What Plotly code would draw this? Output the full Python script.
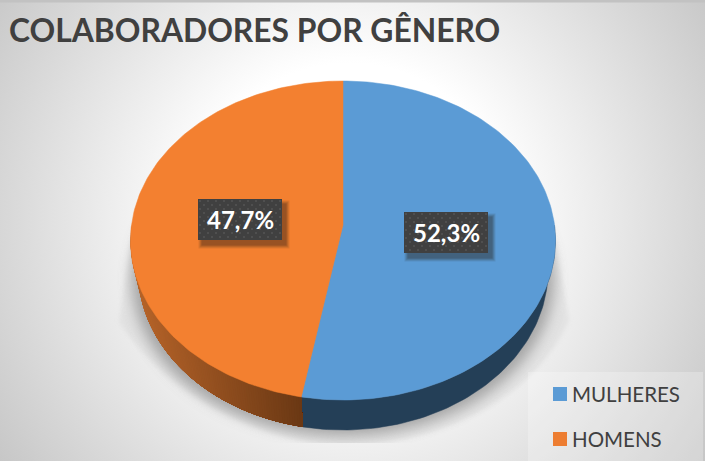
import base64
import numpy as np
import plotly.graph_objects as go

# ---- data ----
categories = ["MULHERES", "HOMENS"]
values = [52.3, 47.7]
title_text = "COLABORADORES POR GÊNERO"

# ---- style ----
W, H = 705, 461
FONT = "Lato"
TEXT = "#404040"
TOP_COLORS = ["#5B9BD5", "#F38030"]
KEY_COLORS = ["#5B9BD5", "#ED7D31"]
BOX_COLOR = "#404040"
CX, CY = 343, 225          # pie centre on screen
RX, RY, K = 211.5, 158, 0.0972  # perspective ellipse
DEPTH = 30
FAR_SCALE = 0.965          # lower rim is smaller, seen in perspective
SPLIT_SHIFT = 2.0          # perspective correction in degrees


def project(deg):
    t = np.radians(deg)
    X, Y = np.sin(t), np.cos(t)
    w = 1 + K * Y
    return CX + RX * X / w, CY - RY * Y / w


def lower_rim(xs, ys):
    return CX + (xs - CX) * FAR_SCALE, ys + DEPTH


svg = f'''<svg xmlns="http://www.w3.org/2000/svg" width="{W}" height="{H}" viewBox="0 0 {W} {H}">
<defs>
<radialGradient id="g" gradientUnits="userSpaceOnUse" cx="350" cy="218" r="430">
<stop offset="0.36" stop-color="#ffffff"/><stop offset="1" stop-color="#c6c6c6"/>
</radialGradient>
<filter id="b" x="-20%" y="-20%" width="140%" height="140%"><feGaussianBlur stdDeviation="7"/></filter>
<filter id="b2" x="-20%" y="-20%" width="140%" height="140%"><feGaussianBlur stdDeviation="2"/></filter>
<clipPath id="c"><rect x="0" y="0" width="{W}" height="443"/></clipPath>
</defs>
<rect width="{W}" height="{H}" fill="url(#g)"/>
<rect width="{W}" height="2.5" fill="#c2c2c2"/>
<g clip-path="url(#c)">
<path d="M131 240 L119 322 C170 400 270 445 345 445 C450 445 540 390 569 320 L555 240 Z" fill="#d9d9d9" filter="url(#b2)" opacity="0.55"/>
<ellipse cx="343" cy="279" rx="211" ry="157" fill="#8f8f8f" filter="url(#b)" opacity="0.75"/>
</g>
</svg>'''
bg = "data:image/svg+xml;base64," + base64.b64encode(svg.encode()).decode()

fig = go.Figure()

split = 360 * values[0] / sum(values) + SPLIT_SHIFT
spans = [(0.0, split), (split, 360.0)]

# side walls: front half of the rim only
bx0, by0 = project(np.linspace(90, split, 80))
lx0, ly0 = lower_rim(bx0, by0)
fig.add_trace(go.Scatter(
    x=np.r_[bx0, lx0[::-1]], y=np.r_[by0, ly0[::-1]], mode="lines", fill="toself",
    fillcolor="rgb(36,63,87)", line=dict(color="rgb(36,63,87)", width=0.5),
    hoverinfo="skip", showlegend=False))

edges = np.linspace(270, split, 121)   # each step repaints up to the split, so no seams
for j in range(120):
    seg = np.linspace(edges[j], split, 12)
    xs, ys = project(seg)
    lx, ly = lower_rim(xs, ys)
    f = np.clip((xs[0] - 136) / (302 - 136), 0, 1)
    c = f"rgb({int(182 - 76 * f)},{int(100 - 44 * f)},{int(42 - 22 * f)})"
    fig.add_trace(go.Scatter(
        x=np.r_[xs, lx[::-1]], y=np.r_[ys, ly[::-1]], mode="lines", fill="toself",
        fillcolor=c, line=dict(width=0), hoverinfo="skip", showlegend=False))

# top faces
for i, (a0, a1) in enumerate(spans):
    ang = np.linspace(a0, a1, 160)
    px, py = project(ang)
    fig.add_trace(go.Scatter(
        x=np.r_[CX, px, CX], y=np.r_[CY, py, CY],
        mode="lines", fill="toself", fillcolor=TOP_COLORS[i], line=dict(color=TOP_COLORS[i], width=0.5),
        name=categories[i], hoverinfo="skip", showlegend=False))

# data labels
box_centres = [(446, 232.5), (240, 219.5)]
bw, bh = 84, 41
for (bx, by), v in zip(box_centres, values):
    l, r, t, b = bx - bw / 2, bx + bw / 2, by - bh / 2, by + bh / 2
    for grow, op in [(3.5, 0.10), (2.5, 0.12), (1.5, 0.14), (0.5, 0.18)]:
        fig.add_trace(go.Scatter(
            x=[l + 4 - grow, r + 4 + grow, r + 4 + grow, l + 4 - grow, l + 4 - grow],
            y=[t + 5 - grow, t + 5 - grow, b + 5 + grow, b + 5 + grow, t + 5 - grow],
            mode="lines", fill="toself", fillcolor=f"rgba(40,30,20,{op})", line=dict(width=0),
            hoverinfo="skip", showlegend=False))
    fig.add_trace(go.Scatter(
        x=[l, r, r, l, l], y=[t, t, b, b, t], mode="lines", fill="toself",
        fillcolor=BOX_COLOR, line=dict(width=0), hoverinfo="skip", showlegend=False))
    dx, dy = [], []
    for row, yy in enumerate(np.arange(t + 2, b, 4)):
        off = 2 if row % 2 == 0 else 6
        for xx in np.arange(l + off, r, 8):
            dx.append(xx); dy.append(yy)
    fig.add_trace(go.Scatter(
        x=dx, y=dy, mode="markers", marker=dict(size=2, color="#555555", line=dict(width=0)),
        hoverinfo="skip", showlegend=False))
    fig.add_annotation(x=bx, y=by, xref="x", yref="y", showarrow=False,
                       text=f"<b>{str(v).replace('.', ',')}%</b>",
                       font=dict(family=FONT, size=24, color="white"))

# key
key_y = [394, 439]
fig.add_trace(go.Scatter(
    x=[560, 560], y=key_y, mode="markers", hoverinfo="skip", showlegend=False,
    marker=dict(symbol="square", size=14, color=KEY_COLORS, line=dict(width=0))))
for cat, ky in zip(categories, key_y):
    fig.add_annotation(x=572, y=ky, xref="x", yref="y", xanchor="left", showarrow=False, text=cat,
                       xshift=-2, font=dict(family=FONT, size=20.5, color=TEXT))

fig.update_layout(
    width=W, height=H, margin=dict(l=0, r=0, t=0, b=0),
    paper_bgcolor="white", plot_bgcolor="rgba(0,0,0,0)", showlegend=False,
    xaxis=dict(range=[0, W], visible=False, fixedrange=True),
    yaxis=dict(range=[H, 0], visible=False, fixedrange=True),
    font=dict(family=FONT, color=TEXT),
    title=dict(text=f"<b>{title_text}</b>", x=9 / W, xanchor="left", y=1 - 31 / H, yanchor="middle",
               xref="paper", yref="paper", font=dict(family=FONT, size=31.8, color=TEXT)),
    images=[dict(source=bg, xref="paper", yref="paper", x=0, y=1, sizex=1, sizey=1,
                 xanchor="left", yanchor="top", sizing="stretch", layer="below")],
    shapes=[dict(type="rect", xref="x", yref="y", x0=528, x1=703, y0=372, y1=461,
                 fillcolor="rgba(255,255,255,0.25)", line=dict(width=0), layer="below")],
)

fig.write_html("out.html", config=dict(displayModeBar=False),
               post_script="document.body.style.margin='0';document.documentElement.style.overflow='hidden';")
